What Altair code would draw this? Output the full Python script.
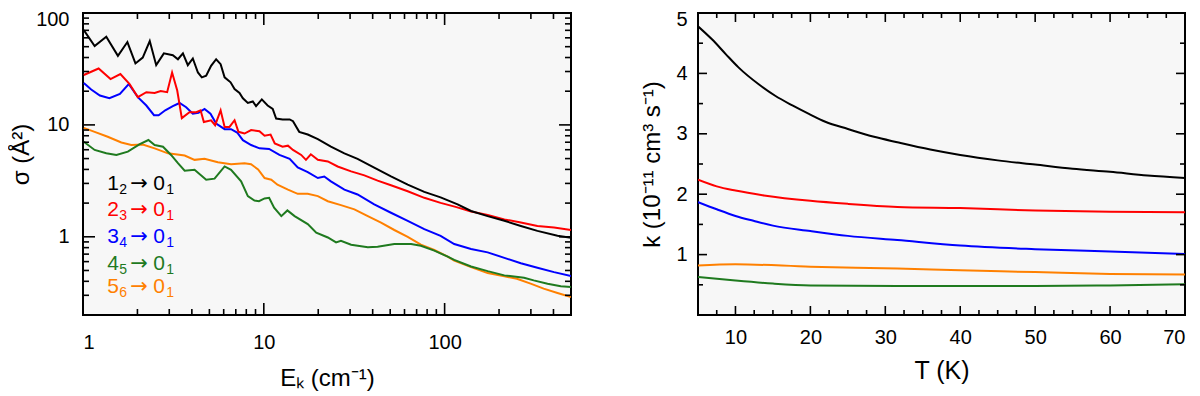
import altair as alt
import pandas as pd

# ---------------- left panel: sigma (A^2) vs E_k (cm-1), log-log ----------------
E_1 = [1.01, 1.16, 1.345, 1.56, 1.76, 1.95, 2.14, 2.34, 2.54, 2.80, 3.14, 3.35, 3.57, 3.80, 4.05,
       4.32, 4.54, 4.80, 5.11, 5.45, 5.77, 6.07, 6.55, 6.89, 7.34, 7.66, 8.16, 8.69, 9.06, 9.75,
       10.5, 11.2, 11.7, 12.7, 13.9, 14.5, 15.7, 17.5, 19.9, 23.5, 27.9, 33, 40.8, 50.5, 62.5,
       77.2, 95, 118, 140, 173, 214, 264, 326, 421, 500]
S_1 = [70.3, 50.7, 61.3, 41.4, 55, 35.4, 40, 56.2, 34.2, 43.6, 41.9, 38.6, 43.6, 34.2, 39.2,
       29.4, 26.6, 27.5, 33.7, 38.6, 34.9, 26.6, 24, 20.9, 19.3, 17.3, 15.7, 16.2, 14.7, 16.9,
       14.9, 13.9, 11.4, 11.2, 11.2, 10.8, 8.67, 8.2, 7.47, 6.38, 5.57, 4.97, 4.16, 3.46, 2.92,
       2.52, 2.25, 1.95, 1.70, 1.53, 1.39, 1.25, 1.13, 1.02, 0.98]

E_2 = [1.01, 1.22, 1.42, 1.61, 1.81, 2.01, 2.24, 2.49, 2.69, 2.92, 3.11, 3.32, 3.52, 3.88, 4.23,
       4.47, 4.66, 5.11, 5.38, 5.77, 6.07, 6.46, 6.89, 7.24, 7.82, 8.51, 9.46, 10.1, 10.9, 11.5,
       12.7, 13.6, 14.5, 16.1, 17.1, 18.2, 19.9, 22.6, 25.6, 30.4, 36, 42.6, 50.5, 62.5, 77.2,
       95, 115, 140, 173, 214, 264, 326, 403, 500]
S_2 = [27.9, 31.9, 25.7, 28.5, 23.2, 17.7, 19.6, 19.3, 20.1, 19.6, 29.4, 20.3, 11.5, 13.0, 13.0,
       13.5, 10.6, 11, 9.94, 13.5, 9.6, 9.6, 11, 8.67, 8.37, 8.98, 8.79, 8.0, 8.2, 6.83,
       6.38, 6.52, 5.97, 5.39, 4.87, 5.46, 4.87, 4.71, 4.25, 3.84, 3.54, 3.18, 2.89, 2.55, 2.23,
       2.01, 1.85, 1.68, 1.57, 1.43, 1.34, 1.25, 1.21, 1.15]

E_3 = [1.01, 1.11, 1.24, 1.40, 1.60, 1.79, 2.01, 2.24, 2.47, 2.62, 2.85, 3.14, 3.42, 3.72, 4.05,
       4.35, 4.70, 5.07, 5.45, 6.07, 6.59, 7.12, 7.66, 8.51, 9.46, 10.7, 12.2, 13.9, 15.4, 17.5,
       19.9, 21.6, 23.5, 27.9, 33, 40.8, 50.5, 62.5, 77.2, 95, 113, 140, 173, 214, 264, 326, 403, 500]
S_3 = [23.7, 20.7, 18.3, 17.3, 18.9, 23.2, 17.7, 14.9, 12.2, 12.2, 13.5, 14.7, 15.7, 14.4, 12.6,
       12.8, 13.9, 12.6, 10.3, 9.16, 9.16, 8.55, 7.3, 6.61, 6.17, 6.1, 5.39, 4.97, 4.16, 3.78,
       3.35, 3.46, 3.13, 2.64, 2.39, 1.95, 1.64, 1.39, 1.17, 1.02, 0.862, 0.778, 0.726, 0.648,
       0.581, 0.528, 0.483, 0.445]

E_4 = [1.01, 1.16, 1.345, 1.53, 1.77, 2.05, 2.30, 2.49, 2.77, 3.07, 3.35, 3.65, 4.14, 4.80, 5.34,
       6.07, 6.59, 7.49, 8.16, 8.88, 9.4, 10.1, 10.7, 11.4, 12.5, 13.5, 14.8, 17.5, 19.5, 22.6,
       25.1, 26.7, 30.4, 37.6, 42.6, 52.7, 65.2, 73.9, 87.7, 104, 113, 140, 173, 214, 275, 311,
       371, 439, 500]
S_4 = [7.08, 5.97, 5.57, 5.39, 5.77, 6.69, 7.33, 6.61, 6.38, 5.39, 4.55, 3.89, 3.97, 3.24, 3.31,
       4.25, 3.97, 3.13, 2.31, 2.11, 2.08, 2.2, 2.23, 1.82, 1.53, 1.72, 1.53, 1.30, 1.09, 0.986,
       0.891, 0.922, 0.85, 0.805, 0.815, 0.862, 0.862, 0.832, 0.752, 0.665, 0.622, 0.543, 0.493,
       0.452, 0.431, 0.408, 0.381, 0.361, 0.355]

E_5 = [1.01, 1.16, 1.37, 1.63, 1.85, 2.14, 2.49, 2.95, 3.65, 4.14, 4.70, 5.57, 6.59, 7.82, 8.5,
       9.3, 10.1, 11, 11.9, 13.6, 15.4, 17.5, 19.9, 22.6, 26.7, 31.7, 37.6, 44.5, 52.7, 62.5,
       73.9, 87.7, 104, 113, 140, 173, 214, 251, 299, 353, 421, 500]
S_5 = [9.4, 8.67, 7.83, 6.97, 6.61, 6.69, 6.17, 5.57, 5.32, 4.87, 4.97, 4.64, 4.45, 4.55, 4.45,
       4.0, 3.35, 3.24, 2.92, 2.64, 2.42, 2.42, 2.31, 2.08, 1.92, 1.76, 1.53, 1.34, 1.15, 1.0,
       0.85, 0.762, 0.665, 0.613, 0.535, 0.474, 0.443, 0.422, 0.381, 0.344, 0.315, 0.29]

# ---------------- right panel: k (1e-11 cm3 s-1) vs T (K) ----------------
T_1 = [5, 6.9, 8.7, 10.4, 13.1, 15.3, 17.6, 19.8, 22, 25, 28.5, 31.6, 36, 40, 45, 50, 55, 60, 65, 70]
K_1 = [4.78, 4.56, 4.32, 4.10, 3.82, 3.63, 3.47, 3.33, 3.20, 3.08, 2.95, 2.86, 2.74, 2.65, 2.56,
       2.49, 2.42, 2.37, 2.31, 2.27]
T_2 = [5, 7.5, 10, 13.8, 20, 25, 31.6, 40, 50, 60, 70]
K_2 = [2.24, 2.13, 2.06, 1.98, 1.89, 1.84, 1.79, 1.77, 1.73, 1.71, 1.70]
T_3 = [5, 7.5, 10, 12.4, 15, 20, 25, 31.6, 40, 50, 60, 70]
K_3 = [1.87, 1.75, 1.64, 1.56, 1.48, 1.39, 1.31, 1.24, 1.15, 1.09, 1.05, 1.01]
T_4 = [5, 10, 15, 20, 31.6, 40, 50, 60, 70]
K_4 = [0.63, 0.57, 0.52, 0.49, 0.48, 0.48, 0.48, 0.49, 0.51]
T_5 = [5, 10, 20, 31.6, 40, 50, 60, 70]
K_5 = [0.82, 0.84, 0.80, 0.77, 0.74, 0.71, 0.68, 0.67]

colors = ["#000000", "#ff0000", "#0000ff", "#1f7a1f", "#ff8000"]
# legend: "1₂ → 0₁" ... built from pieces
leg_from = ["1", "2", "3", "4", "5"]
leg_from_sub = ["2", "3", "4", "5", "6"]
leg_to = ["0", "0", "0", "0", "0"]
leg_to_sub = ["1", "1", "1", "1", "1"]
leg_arrow = ["→", "→", "→", "→", "→"]
label_E = [1.36, 1.36, 1.36, 1.36, 1.36]
label_S = [2.94, 1.73, 1.0, 0.577, 0.354]

# tick values
xl_major = [1, 10, 100]
xl_minor = [2, 3, 4, 5, 6, 7, 8, 9, 20, 30, 40, 50, 60, 70, 80, 90, 200, 300, 400]
yl_major = [1, 10, 100]
yl_minor = [0.2, 0.3, 0.4, 0.5, 0.6, 0.7, 0.8, 0.9, 2, 3, 4, 5, 6, 7, 8, 9,
            20, 30, 40, 50, 60, 70, 80, 90]
xr_major = [10, 20, 30, 40, 50, 60, 70]
xr_minor = [7.5, 12.5, 15, 17.5, 22.5, 25, 27.5, 32.5, 35, 37.5, 42.5, 45,
            47.5, 52.5, 55, 57.5, 62.5, 65, 67.5]
yr_major = [1, 2, 3, 4, 5]
yr_minor = [0.5, 1.5, 2.5, 3.5, 4.5]

FONT = "Liberation Sans"
W = 488
H = 302

xs_l = alt.Scale(type="log", domain=[1, 500], nice=False)
ys_l = alt.Scale(type="log", domain=[0.2, 100], nice=False)
xs_r = alt.Scale(domain=[5, 70], nice=False, zero=False)
ys_r = alt.Scale(domain=[0, 5], nice=False)

ax_xl = alt.Axis(values=xl_major, format="~g", tickSize=0, domain=False, grid=False,
                 labelFontSize=20, labelPadding=17, title="Eₖ (cm⁻¹)",
                 titleFontSize=24, titlePadding=14)
ax_yl = alt.Axis(values=yl_major, format="~g", tickSize=0, domain=False, grid=False,
                 labelFontSize=20, labelPadding=14, labelFlush=True, labelFlushOffset=4,
                 title="σ (Å²)", titleFontSize=24, titlePadding=2, titleY=H / 2 - 10)
ax_xr = alt.Axis(values=xr_major, tickSize=0, domain=False, grid=False,
                 labelFontSize=20, labelPadding=12, title="T (K)",
                 titleFontSize=25, titlePadding=11)
ax_yr = alt.Axis(values=yr_major, tickSize=0, domain=False, grid=False,
                 labelFontSize=20, labelPadding=11, labelFlush=True, labelFlushOffset=4,
                 title="k (10⁻¹¹ cm³ s⁻¹)", titleFontSize=24, titlePadding=11)


def tick_layers(xvals, yvals, xs, ys, xa, ya, xlen, ylen, w, h):
    out = []
    dx = pd.DataFrame({"v": xvals})
    dy = pd.DataFrame({"v": yvals})
    out.append(alt.Chart(dx).mark_rule(color="black", strokeWidth=1.6).encode(
        x=alt.X("v:Q", scale=xs, axis=xa), y=alt.value(h), y2=alt.value(h - xlen)))
    out.append(alt.Chart(dx).mark_rule(color="black", strokeWidth=1.6).encode(
        x=alt.X("v:Q", scale=xs, axis=xa), y=alt.value(0), y2=alt.value(xlen)))
    out.append(alt.Chart(dy).mark_rule(color="black", strokeWidth=1.6).encode(
        y=alt.Y("v:Q", scale=ys, axis=ya), x=alt.value(0), x2=alt.value(ylen)))
    out.append(alt.Chart(dy).mark_rule(color="black", strokeWidth=1.6).encode(
        y=alt.Y("v:Q", scale=ys, axis=ya), x=alt.value(w - ylen), x2=alt.value(w)))
    return out


# ---------------- left chart ----------------
left_layers = []
for ev, sv, i in [(E_5, S_5, 4), (E_4, S_4, 3), (E_3, S_3, 2), (E_2, S_2, 1), (E_1, S_1, 0)]:
    df = pd.DataFrame({"E": ev, "S": sv})
    left_layers.append(alt.Chart(df).mark_line(color=colors[i], strokeWidth=2, clip=True).encode(
        x=alt.X("E:Q", scale=xs_l, axis=ax_xl),
        y=alt.Y("S:Q", scale=ys_l, axis=ax_yl),
        order=alt.Order("E:Q")))

left_layers += tick_layers(xl_major, yl_major, xs_l, ys_l, ax_xl, ax_yl, 12, 12, W, H)
left_layers += tick_layers(xl_minor, yl_minor, xs_l, ys_l, ax_xl, ax_yl, 6, 6, W, H)

leg_df = pd.DataFrame({"E": label_E, "S": label_S, "a": leg_from, "b": leg_from_sub,
                       "c": leg_arrow, "d": leg_to, "e": leg_to_sub, "col": colors})
pieces = [("a", 0, 0, 21, FONT), ("b", 12, 6, 14, FONT), ("c", 23, 0, 21, "DejaVu Sans"),
          ("d", 46, 0, 21, FONT), ("e", 59, 6, 14, FONT)]
for field, dxx, dyy, fs, fnt in pieces:
    left_layers.append(alt.Chart(leg_df).mark_text(
        align="left", baseline="middle", fontSize=fs, font=fnt, dx=dxx, dy=dyy).encode(
        x=alt.X("E:Q", scale=xs_l, axis=ax_xl),
        y=alt.Y("S:Q", scale=ys_l, axis=ax_yl),
        text=alt.Text(f"{field}:N"),
        color=alt.Color("col:N", scale=None)))

left = alt.layer(*left_layers).properties(width=W, height=H)

# ---------------- right chart ----------------
WR = W - 1
right_layers = []
for tv, kv, i in [(T_5, K_5, 4), (T_4, K_4, 3), (T_3, K_3, 2), (T_2, K_2, 1), (T_1, K_1, 0)]:
    df = pd.DataFrame({"T": tv, "K": kv})
    right_layers.append(alt.Chart(df).mark_line(color=colors[i], strokeWidth=2,
                                                interpolate="monotone", clip=True).encode(
        x=alt.X("T:Q", scale=xs_r, axis=ax_xr),
        y=alt.Y("K:Q", scale=ys_r, axis=ax_yr),
        order=alt.Order("T:Q")))

right_layers += tick_layers(xr_major, yr_major, xs_r, ys_r, ax_xr, ax_yr, 9, 9, WR, H)
right_layers += tick_layers(xr_minor, yr_minor, xs_r, ys_r, ax_xr, ax_yr, 5, 5, WR, H)

right = alt.layer(*right_layers).properties(width=WR, height=H)

chart = alt.hconcat(left, right, spacing=66).properties(
    padding={"left": 0, "top": 0, "right": 0, "bottom": 0}
).configure_view(
    fill="#f7f7f7", stroke="black", strokeWidth=2
).configure_axis(
    labelFont=FONT, titleFont=FONT, labelColor="black", titleColor="black",
    titleFontWeight="normal"
).configure_text(font=FONT)

chart.save("out.html", embed_options={"renderer": "svg", "actions": False})
